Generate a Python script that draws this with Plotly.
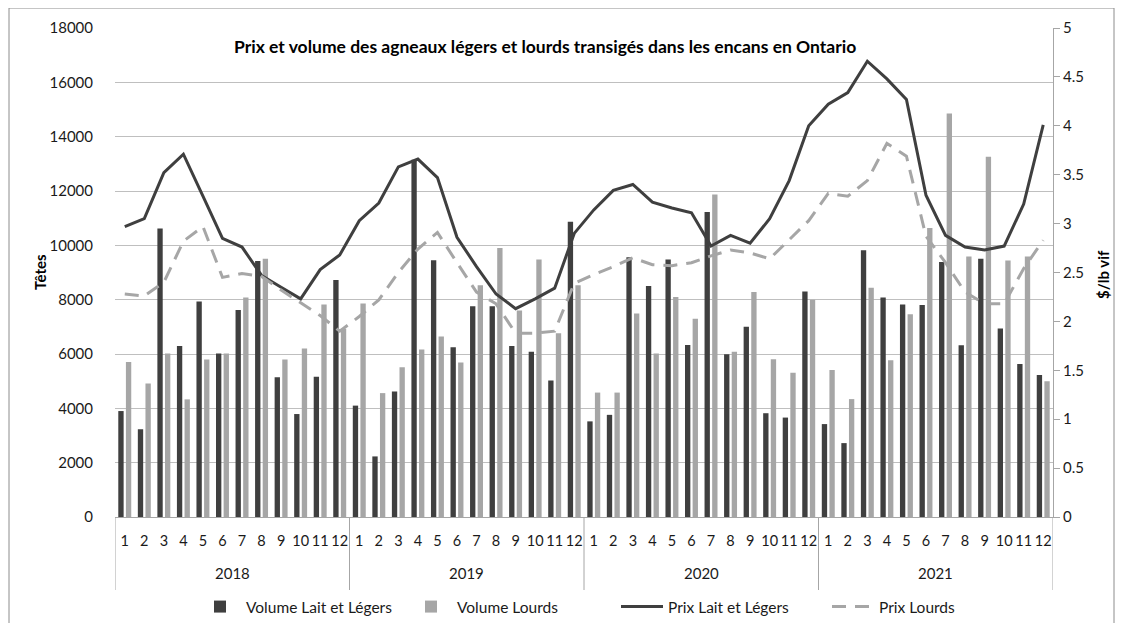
import plotly.graph_objects as go

years = ["2018", "2019", "2020", "2021"]
months = [str(m) for m in range(1, 13)]

vol_legers = [
    3900, 3230, 10620, 6290, 7930, 6020, 7620, 9420, 5140, 3790, 5160, 8720,
    4100, 2230, 4620, 13150, 9450, 6250, 7760, 7760, 6290, 6080, 5020, 10870,
    3520, 3760, 9560, 8500, 9480, 6330, 11230, 5990, 7000, 3820, 3660, 8300,
    3420, 2720, 9820, 8080, 7820, 7800, 9390, 6320, 9510, 6940, 5630, 5230,
]
vol_lourds = [
    5710, 4910, 6020, 4330, 5800, 6020, 8080, 9510, 5800, 6200, 7820, 6930,
    7860, 4560, 5510, 6170, 6640, 5690, 8530, 9900, 7600, 9480, 6760, 8530,
    4580, 4580, 7490, 6020, 8100, 7300, 11870, 6080, 8280, 5810, 5310, 8000,
    5410, 4340, 8440, 5770, 7460, 10640, 14850, 9590, 13260, 9440, 9590, 5000,
]
prix_legers = [
    2.97, 3.05, 3.52, 3.71, 3.28, 2.85, 2.76, 2.47, 2.35, 2.23, 2.53, 2.68,
    3.03, 3.21, 3.58, 3.66, 3.47, 2.86, 2.56, 2.28, 2.13, 2.23, 2.34, 2.90,
    3.14, 3.34, 3.40, 3.22, 3.16, 3.11, 2.77, 2.88, 2.80, 3.05, 3.44, 4.00,
    4.22, 4.34, 4.66, 4.48, 4.27, 3.29, 2.88, 2.76, 2.73, 2.77, 3.20, 4.01,
]
prix_lourds = [
    2.28, 2.26, 2.40, 2.82, 2.97, 2.45, 2.49, 2.46, 2.32, 2.19, 2.06, 1.90,
    2.05, 2.22, 2.50, 2.74, 2.91, 2.60, 2.30, 2.18, 1.88, 1.88, 1.90, 2.39,
    2.48, 2.56, 2.65, 2.58, 2.57, 2.60, 2.67, 2.73, 2.70, 2.64, 2.83, 3.03,
    3.31, 3.28, 3.44, 3.82, 3.69, 2.87, 2.60, 2.30, 2.18, 2.18, 2.54, 2.83,
]

x_cat = [f"{y}-{m}" for y in years for m in months]
tick_text = [m for _ in years for m in months]
n_m = len(months)

FONT = "Lato, 'Open Sans', sans-serif"
DARK = "#3f3f3f"
LIGHT = "#a6a6a6"

# page has an 8px body margin; figure is sized so that page coords match the reference
W, H = 1117, 615
L, R, T, B = 107, 72, 20, 106
PW, PH = W - L - R, H - T - B


def px_x(page_x):
    return (page_x - 8 - L) / PW


def px_y(page_y):
    return (H - B - (page_y - 8)) / PH


fig = go.Figure()
fig.add_trace(go.Bar(x=x_cat, y=vol_legers, name="Volume Lait et Légers",
                     marker=dict(color=DARK, line=dict(width=0))))
fig.add_trace(go.Bar(x=x_cat, y=vol_lourds, name="Volume Lourds",
                     marker=dict(color=LIGHT, line=dict(width=0))))
fig.add_trace(go.Scatter(x=x_cat, y=prix_legers, name="Prix Lait et Légers", yaxis="y2",
                         mode="lines", line=dict(color=DARK, width=3)))
fig.add_trace(go.Scatter(x=x_cat, y=prix_lourds, name="Prix Lourds", yaxis="y2",
                         mode="lines", line=dict(color=LIGHT, width=3, dash="14px,9px")))

annotations = [
    dict(text="<b>Prix et volume des agneaux légers et lourds transigés dans les encans en Ontario</b>",
         xref="paper", yref="paper", x=px_x(545), y=px_y(47),
         xanchor="center", yanchor="middle", showarrow=False, font=dict(size=17.5, color="#000")),
    dict(text="<b>Têtes</b>", xref="paper", yref="paper", x=px_x(40), y=px_y(272),
         xanchor="center", yanchor="middle", textangle=-90, showarrow=False,
         font=dict(size=15, color="#000")),
    dict(text="<b>$/lb vif</b>", xref="paper", yref="paper", x=px_x(1103), y=px_y(275),
         xanchor="center", yanchor="middle", textangle=-90, showarrow=False,
         font=dict(size=15, color="#000")),
]
for i, y in enumerate(years):
    annotations.append(dict(text=y, xref="x", yref="paper", x=i * n_m + (n_m - 1) / 2,
                            y=px_y(573), xanchor="center", yanchor="middle", showarrow=False,
                            font=dict(size=15, color="#1a1a1a")))

shapes = [
    dict(type="rect", xref="paper", yref="paper",
         x0=px_x(9), x1=px_x(1114), y0=px_y(640), y1=px_y(8),
         line=dict(color="#8c8c8c", width=1), fillcolor="rgba(0,0,0,0)", layer="below"),
]
for i in range(len(years) + 1):
    shapes.append(dict(type="line", xref="x", yref="paper", x0=i * n_m - 0.5, x1=i * n_m - 0.5,
                       y0=0, y1=px_y(590), line=dict(color=LIGHT, width=1)))

fig.update_layout(
    width=W, height=H,
    margin=dict(l=L, r=R, t=T, b=B, autoexpand=False),
    paper_bgcolor="white", plot_bgcolor="white",
    font=dict(family=FONT, size=15, color="#1a1a1a"),
    barmode="group", bargap=0.22, bargroupgap=0.3,
    showlegend=True,
    legend=dict(orientation="h", x=px_x(194), xanchor="left", y=px_y(607), yanchor="middle",
                font=dict(size=15.5), traceorder="normal", entrywidth=154, itemwidth=42),
    xaxis=dict(type="category", range=[-0.5, len(x_cat) - 0.5], tickmode="array",
               tickvals=x_cat, ticktext=tick_text, showline=True, linecolor=LIGHT, linewidth=1,
               ticks="", tickangle=0, tickfont=dict(size=14.5), showgrid=False,
               automargin=False, ticklabelstandoff=11),
    yaxis=dict(range=[0, 18000], dtick=2000, tickformat="d", showgrid=True,
               gridcolor="#bfbfbf", gridwidth=1.3, showline=False, zeroline=False,
               ticks="", tickfont=dict(size=15), ticklabelstandoff=21, automargin=False),
    yaxis2=dict(range=[0, 5], dtick=0.5, overlaying="y", side="right", showgrid=False,
                showline=True, linecolor=LIGHT, linewidth=1, ticks="outside", ticklen=6,
                tickcolor=LIGHT, zeroline=False, tickfont=dict(size=15), automargin=False),
    annotations=annotations,
    shapes=shapes,
)

fig.write_html("out.html")
